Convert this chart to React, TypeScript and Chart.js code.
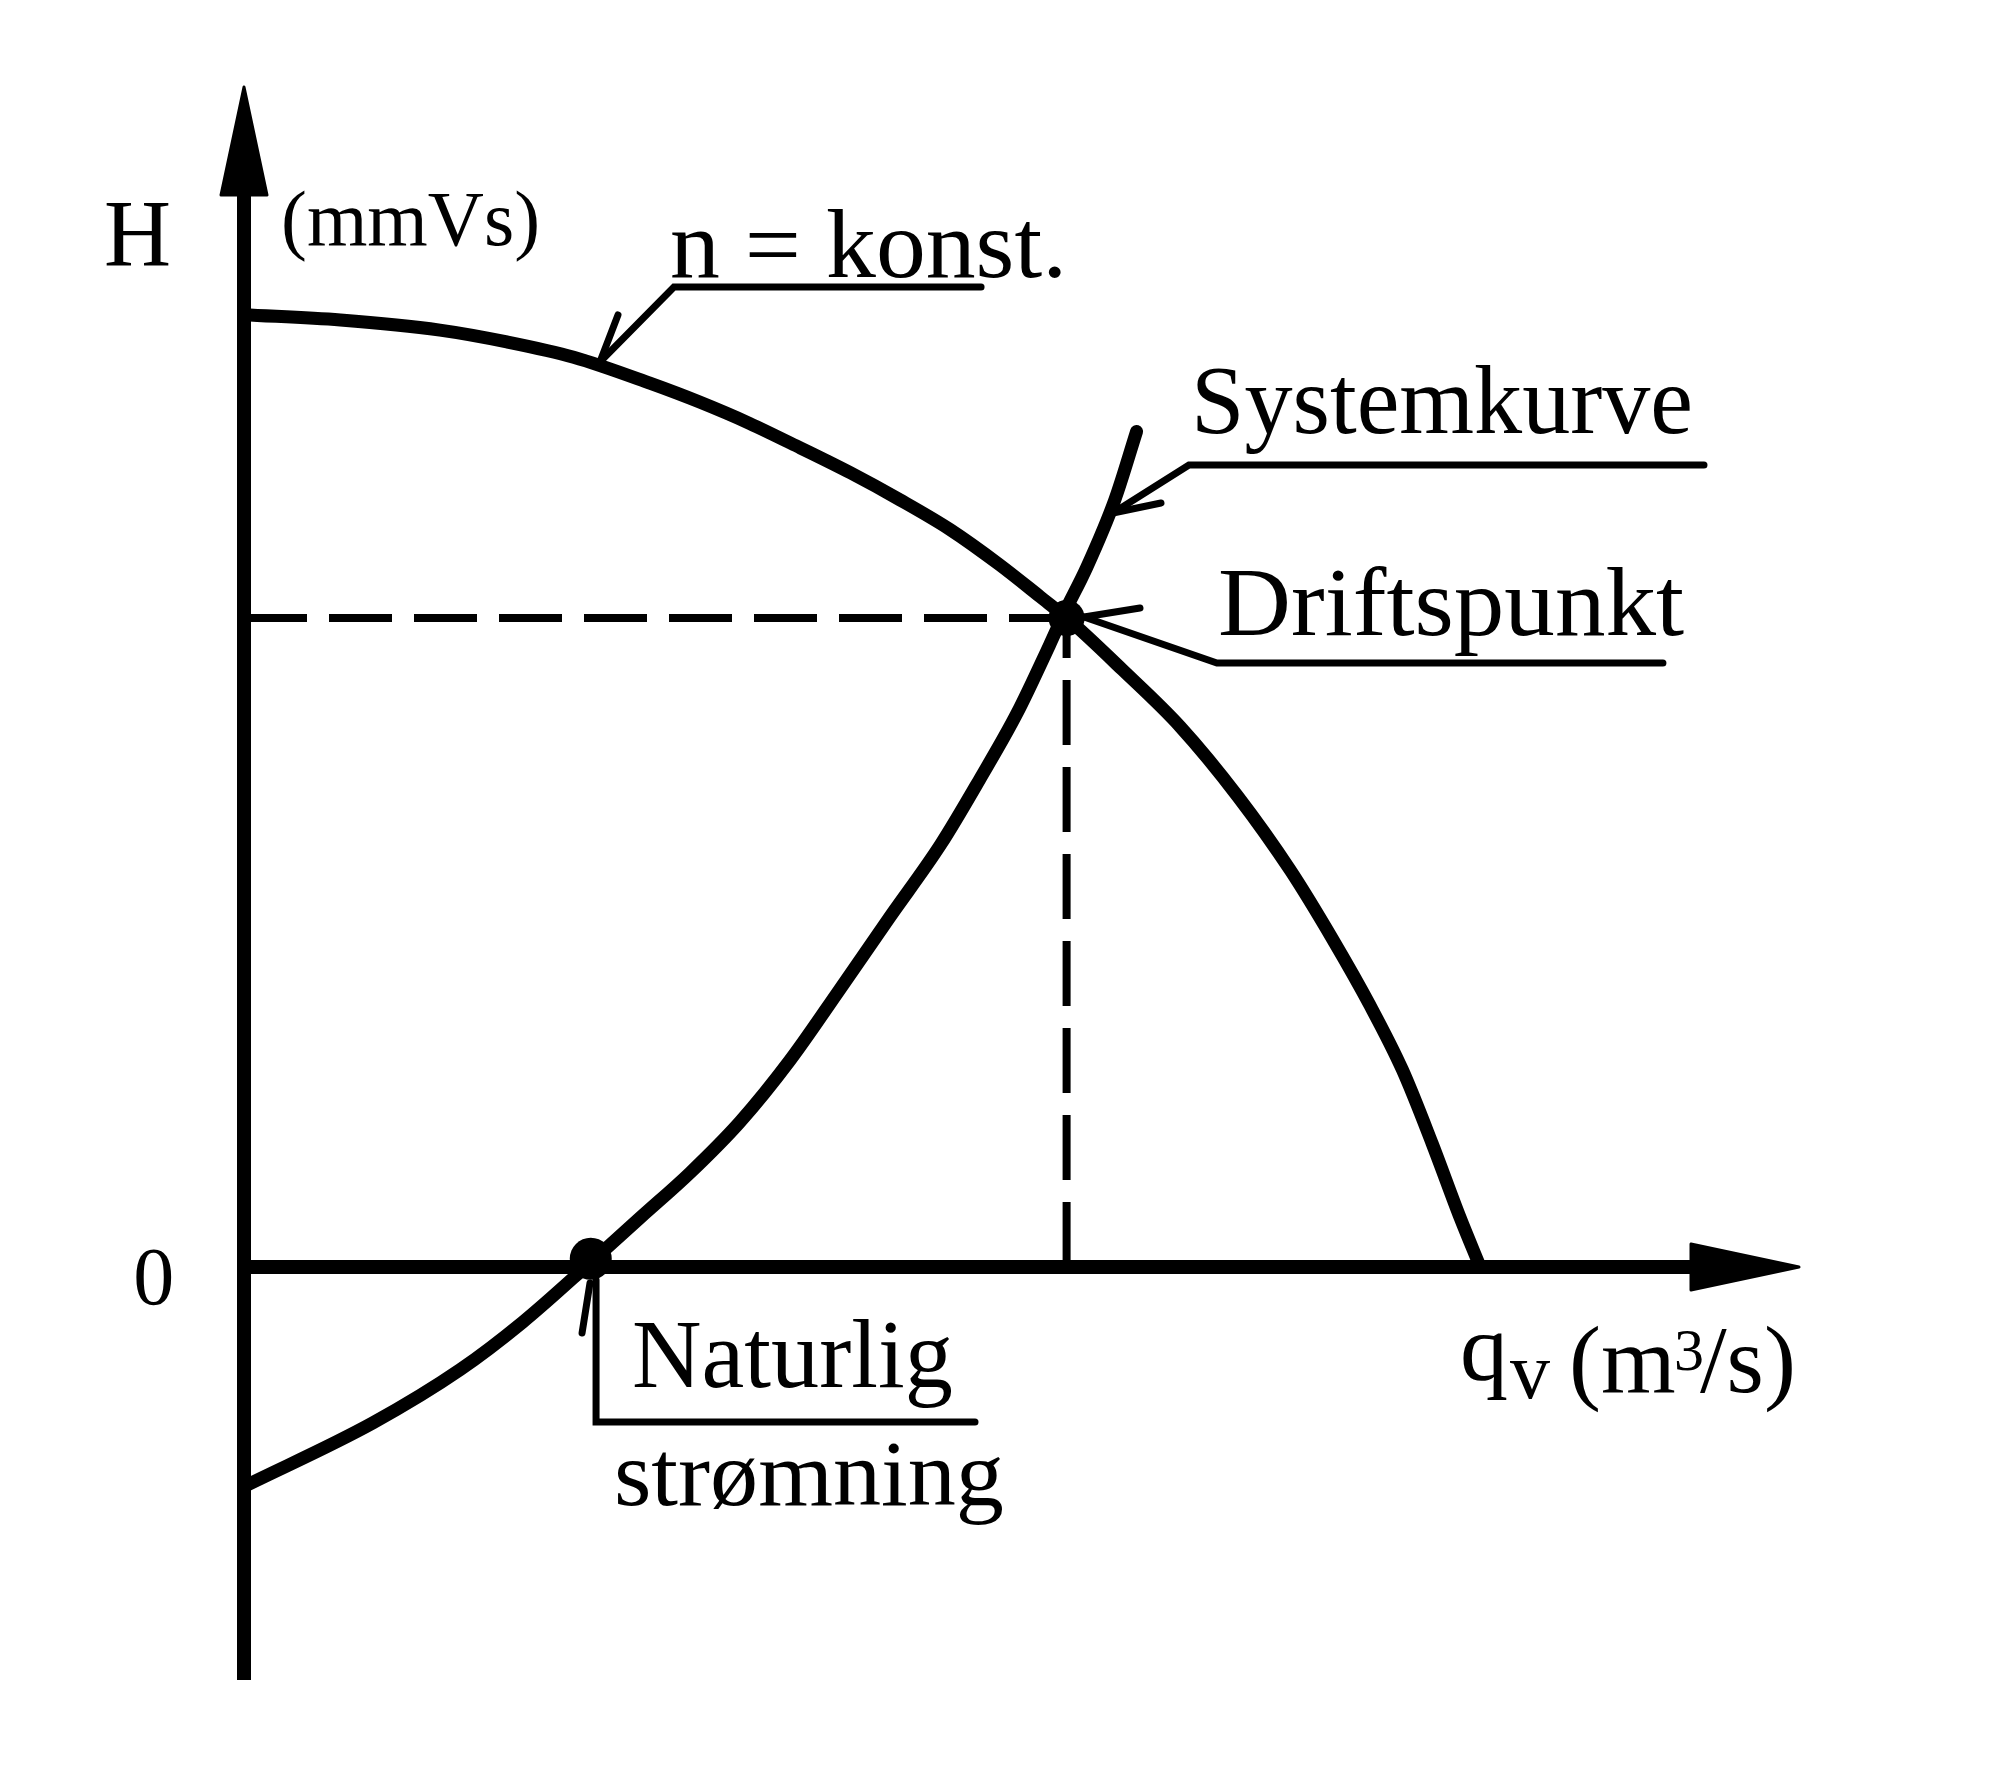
import React, { useEffect, useRef } from "react";
import { Chart, registerables } from "chart.js";

Chart.register(...registerables);

// ---------- data (q in relative units, H in relative units) ----------
const pumpQ = [0, 0.62, 1.26, 1.69, 2.12, 2.61, 2.93, 3.25, 3.58, 3.9, 4.22, 4.54, 4.86, 5.12, 5.3, 5.65, 6.02, 6.39, 6.73, 7.0, 7.24, 7.45, 7.64, 7.82, 7.95];
const pumpH = [8.07, 8.025, 7.94, 7.84, 7.71, 7.49, 7.33, 7.15, 6.94, 6.73, 6.5, 6.25, 5.95, 5.68, 5.49, 5.06, 4.58, 3.99, 3.36, 2.78, 2.22, 1.67, 1.05, 0.42, 0.0];

const sysQ = [0, 0.83, 1.39, 1.79, 2.23, 2.55, 2.87, 3.19, 3.51, 3.83, 4.15, 4.48, 4.73, 4.97, 5.18, 5.27, 5.42, 5.6, 5.74];
const sysH = [-1.86, -1.32, -0.87, -0.47, 0.04, 0.42, 0.8, 1.23, 1.75, 2.35, 2.96, 3.58, 4.13, 4.69, 5.27, 5.53, 5.93, 6.5, 7.08];

const driftQ = 5.29;
const driftH = 5.5;
const naturQ = 2.23;
const naturH = 0.07;

const Q_MIN = 0;
const Q_MAX = 10;
const H_MIN = -3.5;
const H_MAX = 10;

// ---------- annotation texts ----------
const FONT = '"Liberation Serif", "Times New Roman", serif';

type Pt = [number, number];
type Label = { text: string; x: number; y: number; size: number; width?: number };
type Leader = { path: Pt[]; barb?: [Pt, Pt] };

const labels: Label[] = [
  { text: "H", x: -0.9, y: 8.483, size: 96, width: 67 },
  { text: "(mmVs)", x: 0.238, y: 8.661, size: 78, width: 259 },
  { text: "n = konst.", x: 2.74, y: 8.39, size: 98, width: 397 },
  { text: "Systemkurve", x: 6.09, y: 7.068, size: 98, width: 502 },
  { text: "Driftspunkt", x: 6.264, y: 5.356, size: 98, width: 466 },
  { text: "Naturlig", x: 2.495, y: -1.017, size: 98, width: 321 },
  { text: "strømning", x: 2.379, y: -2.017, size: 94, width: 390 },
  { text: "0", x: -0.712, y: -0.31, size: 82 },
  { text: "q", x: 7.82, y: -0.958, size: 96 },
  { text: "v", x: 8.141, y: -1.11, size: 80 },
  { text: "(m", x: 8.521, y: -1.059, size: 96 },
  { text: "3", x: 9.196, y: -0.873, size: 60 },
  { text: "/s)", x: 9.363, y: -1.059, size: 96 },
];

const leaders: Leader[] = [
  { path: [[4.74, 8.305], [2.765, 8.305], [2.289, 7.669]], barb: [[2.289, 7.669], [2.405, 8.068]] },
  { path: [[9.389, 6.797], [6.077, 6.797], [5.588, 6.39]], barb: [[5.588, 6.39], [5.897, 6.475]] },
  { path: [[9.125, 5.119], [6.257, 5.119], [5.402, 5.508]], barb: [[5.402, 5.508], [5.762, 5.585]] },
  { path: [[4.701, -1.314], [2.264, -1.314], [2.264, -0.11]], barb: [[2.225, -0.136], [2.174, -0.559]] },
];

const overlay = {
  id: "overlay",
  afterDatasetsDraw(chart: any) {
    const { ctx } = chart;
    const xs = chart.scales.x;
    const ys = chart.scales.y;
    const px = (v: number) => xs.getPixelForValue(v);
    const py = (v: number) => ys.getPixelForValue(v);
    ctx.save();
    ctx.fillStyle = "#000";
    ctx.strokeStyle = "#000";

    // axes
    const arrowLen = 108;
    const arrowHalf = 23;
    ctx.lineWidth = 14;
    ctx.lineCap = "butt";
    const ox = px(0);
    const oy = py(0);
    const yTop = py(H_MAX);
    const xEnd = px(Q_MAX);
    ctx.beginPath();
    ctx.moveTo(ox, py(H_MIN));
    ctx.lineTo(ox, yTop + arrowLen - 4);
    ctx.stroke();
    ctx.beginPath();
    ctx.moveTo(ox, oy);
    ctx.lineTo(xEnd - arrowLen + 4, oy);
    ctx.stroke();
    // arrow heads
    ctx.lineJoin = "round";
    ctx.lineWidth = 3;
    ctx.beginPath();
    ctx.moveTo(ox, yTop);
    ctx.lineTo(ox + arrowHalf, yTop + arrowLen);
    ctx.lineTo(ox - arrowHalf, yTop + arrowLen);
    ctx.closePath();
    ctx.fill();
    ctx.stroke();
    ctx.beginPath();
    ctx.moveTo(xEnd, oy);
    ctx.lineTo(xEnd - arrowLen, oy - arrowHalf);
    ctx.lineTo(xEnd - arrowLen, oy + arrowHalf);
    ctx.closePath();
    ctx.fill();
    ctx.stroke();

    // leaders
    ctx.lineWidth = 7;
    ctx.lineCap = "round";
    ctx.lineJoin = "miter";
    for (const l of leaders) {
      ctx.beginPath();
      l.path.forEach((p, i) => (i === 0 ? ctx.moveTo(px(p[0]), py(p[1])) : ctx.lineTo(px(p[0]), py(p[1]))));
      ctx.stroke();
      if (l.barb) {
        ctx.beginPath();
        ctx.moveTo(px(l.barb[0][0]), py(l.barb[0][1]));
        ctx.lineTo(px(l.barb[1][0]), py(l.barb[1][1]));
        ctx.stroke();
      }
    }

    // texts
    ctx.textAlign = "left";
    ctx.textBaseline = "alphabetic";
    for (const t of labels) {
      ctx.font = `${t.size}px ${FONT}`;
      const m = ctx.measureText(t.text).width;
      const sx = t.width ? t.width / m : 1;
      ctx.save();
      ctx.translate(px(t.x), py(t.y));
      ctx.scale(sx, 1);
      ctx.fillText(t.text, 0, 0);
      ctx.restore();
    }
    ctx.restore();
  },
};

export default function App() {
  const ref = useRef<HTMLCanvasElement | null>(null);
  useEffect(() => {
    if (!ref.current) return;
    const toPts = (xsArr: number[], ysArr: number[]) => xsArr.map((q, i) => ({ x: q, y: ysArr[i] }));
    const chart = new Chart(ref.current, {
      type: "line",
      data: {
        datasets: [
          {
            label: "Driftspunkt / Naturlig strømning",
            type: "scatter",
            data: [
              { x: driftQ, y: driftH },
              { x: naturQ, y: naturH },
            ],
            pointRadius: [18, 21],
            pointBackgroundColor: "#000",
            pointBorderColor: "#000",
            pointBorderWidth: 0,
            order: 0,
          } as any,
          {
            label: "n = konst.",
            data: toPts(pumpQ, pumpH),
            borderColor: "#000",
            borderWidth: 13,
            pointRadius: 0,
            cubicInterpolationMode: "monotone",
            borderCapStyle: "round",
            borderJoinStyle: "round",
            fill: false,
            order: 1,
          },
          {
            label: "Systemkurve",
            data: toPts(sysQ, sysH),
            borderColor: "#000",
            borderWidth: 13,
            pointRadius: 0,
            cubicInterpolationMode: "monotone",
            borderCapStyle: "round",
            borderJoinStyle: "round",
            fill: false,
            order: 1,
          },
          {
            label: "H drift",
            data: [
              { x: 0, y: driftH },
              { x: driftQ, y: driftH },
            ],
            borderColor: "#000",
            borderWidth: 8,
            borderDash: [63, 22],
            pointRadius: 0,
            fill: false,
            order: 2,
          },
          {
            label: "q drift",
            data: [
              { x: driftQ, y: 0 },
              { x: driftQ, y: driftH },
            ],
            borderColor: "#000",
            borderWidth: 8,
            borderDash: [65, 22],
            pointRadius: 0,
            fill: false,
            order: 2,
          },
        ],
      },
      options: {
        responsive: false,
        animation: false,
        events: [],
        clip: false as any,
        layout: { padding: { left: 244, right: 217, top: 87, bottom: 102 } },
        plugins: { legend: { display: false }, tooltip: { enabled: false } },
        scales: {
          x: { type: "linear", min: Q_MIN, max: Q_MAX, display: false },
          y: { type: "linear", min: H_MIN, max: H_MAX, display: false },
        },
      },
      plugins: [overlay],
    });
    return () => chart.destroy();
  }, []);
  return (
    <div style={{ position: "fixed", left: 0, top: 0, width: 2016, height: 1782, background: "#fff" }}>
      <canvas ref={ref} width={2016} height={1782} style={{ display: "block", width: 2016, height: 1782 }} />
    </div>
  );
}
